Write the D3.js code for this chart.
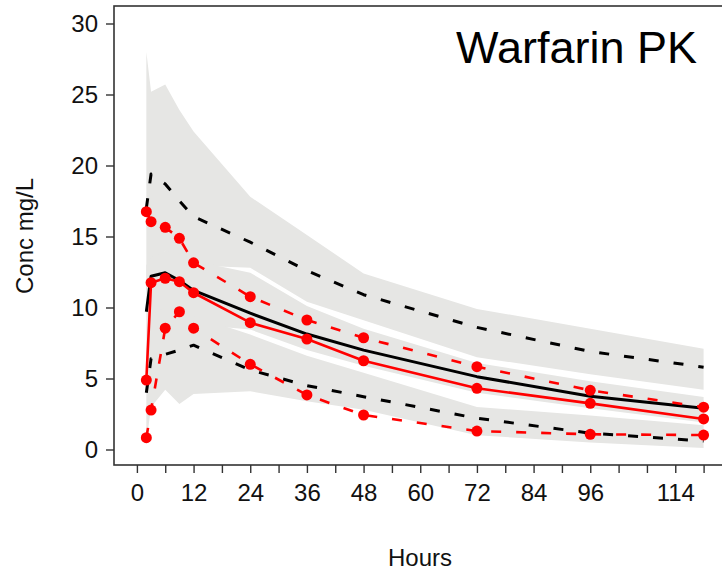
<!DOCTYPE html>
<html><head><meta charset="utf-8">
<script src="https://cdn.jsdelivr.net/npm/d3@7"></script>
<style>body{margin:0;background:#fff}svg{display:block}text{font-family:"Liberation Sans",Arial,sans-serif}</style>
</head><body>
<script>
// ---- data ----
const times = [2, 3, 6, 9, 12, 24, 36, 48, 72, 96, 120];
// observed percentiles (red)
const obsP95 = [16.75, 16.04, 15.65, 14.87, 13.15, 10.76, 9.12, 7.87, 5.83, 4.17, 2.98];
const obsP50 = [4.89, 11.75, 12.06, 11.82, 11.04, 8.93, 7.78, 6.25, 4.31, 3.25, 2.15];
const obsP05 = [0.83, 2.78, 8.54, 9.70, 8.54, 6.0, 3.84, 2.43, 1.30, 1.07, 1.02];
// simulated percentiles (black)
const simP95 = [17.0, 19.4, 18.7, 17.5, 16.4, 14.6, 12.6, 10.9, 8.6, 6.9, 5.8];
const simP50 = [9.7, 12.2, 12.45, 11.9, 11.2, 9.6, 8.13, 7.0, 5.13, 3.75, 2.9];
const simP05 = [4.0, 6.4, 6.7, 7.0, 7.35, 5.6, 4.5, 3.72, 2.2, 1.15, 0.6];
// confidence bands (grey)
const bandP95Hi = [28.0, 25.2, 25.7, 23.9, 22.4, 17.8, 15.1, 12.4, 9.9, 8.5, 7.1];
const bandP95Lo = [11.0, 13.0, 14.0, 13.5, 12.95, 12.8, 10.4, 9.1, 6.5, 5.3, 4.2];
const bandP50Hi = [13.0, 13.5, 14.0, 13.8, 13.3, 12.45, 10.1, 8.5, 6.1, 4.8, 3.7];
const bandP50Lo = [6.0, 9.0, 9.5, 9.3, 8.8, 8.45, 7.0, 5.9, 4.0, 2.9, 1.9];
const bandP05Hi = [7.0, 9.5, 10.0, 9.8, 9.4, 8.1, 6.6, 5.4, 3.0, 2.4, 1.7];
const bandP05Lo = [0.5, 3.0, 4.2, 3.2, 3.9, 4.1, 3.4, 2.8, 1.0, 0.5, 0.1];
// axes
const xTicks = d3.range(0, 121, 6);
const xLabels = [0, 12, 24, 36, 48, 60, 72, 84, 96, 114];
const yTicks = [0, 5, 10, 15, 20, 25, 30];
const title = "Warfarin PK";
const xTitle = "Hours";
const yTitle = "Conc mg/L";

// ---- layout ----
const W = 722, H = 574;
const svg = d3.select("body").append("svg").attr("width", W).attr("height", H);
const x = d3.scaleLinear().domain([0, 120]).range([136.9, 703.6]);
const y = d3.scaleLinear().domain([0, 30]).range([449.5, 23.5]);
const frame = {left: 114, top: 6, right: 724, bottom: 465};

const band = (hi, lo) => d3.area().x((d, i) => x(times[i])).y0((d, i) => y(lo[i])).y1((d, i) => y(hi[i]))(times);
const grey = "#e6e6e4";
[[bandP95Hi, bandP95Lo], [bandP50Hi, bandP50Lo], [bandP05Hi, bandP05Lo]].forEach(([hi, lo]) => {
  svg.append("path").attr("d", band(hi, lo)).attr("fill", grey).attr("stroke", "none");
});

const line = vals => d3.line().x((d, i) => x(times[i])).y((d, i) => y(vals[i]))(times);
const dash = "10,15";
function drawLine(vals, color, w, dashed) {
  svg.append("path").attr("d", line(vals)).attr("fill", "none").attr("stroke", color)
    .attr("stroke-width", w).attr("stroke-dasharray", dashed ? dash : null)
    .attr("stroke-linejoin", "round");
}
drawLine(simP95, "#000", 3, true);
drawLine(simP05, "#000", 3, true);
drawLine(simP50, "#000", 3, false);
drawLine(obsP95, "#ff0000", 2.6, true);
drawLine(obsP05, "#ff0000", 2.6, true);
drawLine(obsP50, "#ff0000", 2.6, false);
[obsP95, obsP50, obsP05].forEach(vals => {
  svg.append("g").selectAll("circle").data(vals).join("circle")
    .attr("cx", (d, i) => x(times[i])).attr("cy", d => y(d)).attr("r", 5.5).attr("fill", "#ff0000");
});

// frame
svg.append("rect").attr("x", frame.left).attr("y", frame.top)
  .attr("width", frame.right - frame.left).attr("height", frame.bottom - frame.top)
  .attr("fill", "none").attr("stroke", "#333").attr("stroke-width", 1.6);

// axes
const xAxis = d3.axisBottom(x).tickValues(xTicks).tickSize(8).tickPadding(11)
  .tickFormat(d => xLabels.includes(d) ? String(d) : "");
const gx = svg.append("g").attr("transform", `translate(0,${frame.bottom})`).call(xAxis);
gx.select(".domain").remove();
gx.selectAll("line").attr("stroke", "#333").attr("stroke-width", 1.4);
gx.selectAll("text").attr("font-size", 24).attr("fill", "#111");

const yAxis = d3.axisLeft(y).tickValues(yTicks).tickSize(8).tickPadding(8);
const gy = svg.append("g").attr("transform", `translate(${frame.left},0)`).call(yAxis);
gy.select(".domain").remove();
gy.selectAll("line").attr("stroke", "#333").attr("stroke-width", 1.4);
gy.selectAll("text").attr("font-size", 24).attr("fill", "#111");

svg.append("text").attr("x", 420).attr("y", 566).attr("text-anchor", "middle")
  .attr("font-size", 24).attr("fill", "#111").text(xTitle);
svg.append("text").attr("transform", "translate(33,236) rotate(-90)").attr("text-anchor", "middle")
  .attr("font-size", 24).attr("fill", "#111").text(yTitle);
svg.append("text").attr("x", 697).attr("y", 63).attr("text-anchor", "end")
  .attr("font-size", 45).attr("fill", "#000").text(title);
</script>
</body></html>
